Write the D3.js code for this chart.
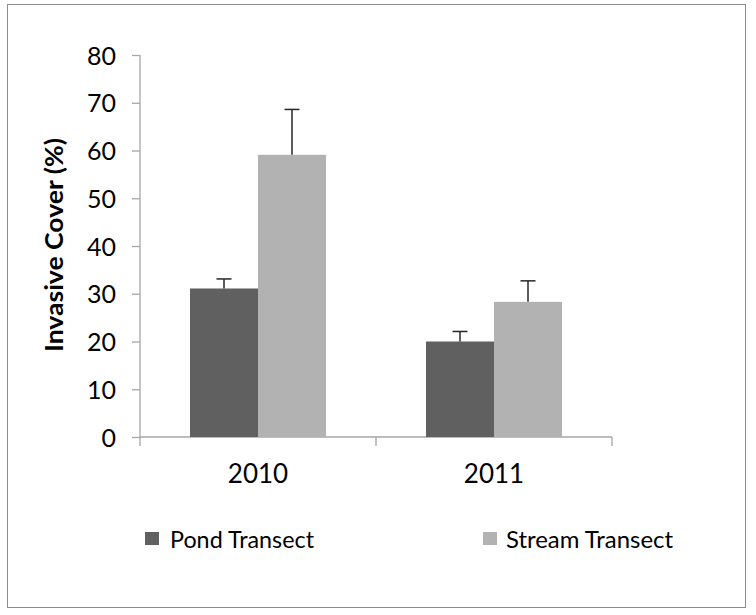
<!DOCTYPE html>
<html><head><meta charset="utf-8">
<script src="https://cdn.jsdelivr.net/npm/d3@7"></script>
<style>body{margin:0;background:#fff}svg{display:block}text{font-family:Lato,"Liberation Sans",sans-serif;fill:#000}</style>
</head><body><svg id="c" width="756" height="615"></svg>
<script>
const categories = ["2010", "2011"];
const seriesNames = ["Pond Transect", "Stream Transect"];
const pondValues = [31.1, 20.0];
const pondErrors = [2.0, 2.1];
const streamValues = [59.1, 28.3];
const streamErrors = [9.5, 4.4];
const yTicks = [0, 10, 20, 30, 40, 50, 60, 70, 80];
const colors = ["#606060", "#b2b2b2"];

(function () {
const svg = d3.select("#c");
svg.append("rect").attr("x", 7.5).attr("y", 4.5).attr("width", 738).attr("height", 603)
  .attr("fill", "none").attr("stroke", "#8c8c8c").attr("stroke-width", 1);

const pL = 140, pR = 612, pT = 55, pB = 437;
const x = d3.scaleBand().domain(categories).range([pL, pR]).paddingInner(0).paddingOuter(0);
const inner = d3.scaleBand().domain(seriesNames).range([50, x.bandwidth() - 50]).padding(0);
const y = d3.scaleLinear().domain([0, 80]).range([pB, pT]);

// y axis
const yAxis = svg.append("g").attr("transform", `translate(${pL},0)`)
  .call(d3.axisLeft(y).tickValues(yTicks).tickSize(8).tickPadding(16));
yAxis.select(".domain").attr("d", `M-0,${pT}V${pB + 9}`);
yAxis.selectAll("path,line").attr("stroke", "#a6a6a6").attr("stroke-width", 1.3);
yAxis.selectAll("text").style("font-size", "25px").style("font-family", "Lato,sans-serif").attr("dy", "0.36em");

// x axis
const xAxis = svg.append("g").attr("transform", `translate(0,${pB})`)
  .call(d3.axisBottom(x).tickSize(0).tickPadding(28));
xAxis.select(".domain").attr("d", `M${pL},0H${pR}`);
xAxis.selectAll("path").attr("stroke", "#a6a6a6").attr("stroke-width", 1.3);
xAxis.selectAll("text").style("font-size", "26px").style("font-family", "Lato,sans-serif");
xAxis.selectAll("line.sep").data([pL + x.bandwidth(), pR]).enter().append("line")
  .attr("class", "sep").attr("x1", d => d).attr("x2", d => d).attr("y1", 0).attr("y2", 9)
  .attr("stroke", "#a6a6a6").attr("stroke-width", 1.3);

const rows = categories.map((c, i) => ({
  cat: c,
  items: [
    {name: seriesNames[0], v: pondValues[i], e: pondErrors[i], color: colors[0]},
    {name: seriesNames[1], v: streamValues[i], e: streamErrors[i], color: colors[1]}
  ]
}));

const g = svg.append("g");
rows.forEach(r => {
  r.items.forEach(it => {
    const bx = x(r.cat) + inner(it.name);
    g.append("rect").attr("x", bx).attr("y", y(it.v)).attr("width", inner.bandwidth())
      .attr("height", y(0) - y(it.v)).attr("fill", it.color);
    const cx = bx + inner.bandwidth() / 2;
    g.append("line").attr("x1", cx).attr("x2", cx).attr("y1", y(it.v)).attr("y2", y(it.v + it.e))
      .attr("stroke", "#262626").attr("stroke-width", 1.5);
    g.append("line").attr("x1", cx - 7.5).attr("x2", cx + 7.5).attr("y1", y(it.v + it.e)).attr("y2", y(it.v + it.e))
      .attr("stroke", "#262626").attr("stroke-width", 1.5);
  });
});

svg.append("text").attr("transform", `translate(63,245) rotate(-90)`)
  .attr("text-anchor", "middle").style("font-size", "24px").style("font-weight", "bold")
  .attr("textLength", 214).attr("lengthAdjust", "spacingAndGlyphs")
  .text("Invasive Cover (%)");

const legX = [145, 483];
const legW = [144, 167];
seriesNames.forEach((n, i) => {
  svg.append("rect").attr("x", legX[i]).attr("y", 532).attr("width", 14).attr("height", 13).attr("fill", colors[i]);
  svg.append("text").attr("x", legX[i] + (i === 0 ? 25 : 23)).attr("y", 548).style("font-size", "23px")
    .attr("textLength", legW[i]).attr("lengthAdjust", "spacingAndGlyphs").text(n);
});
})();
</script></body></html>
